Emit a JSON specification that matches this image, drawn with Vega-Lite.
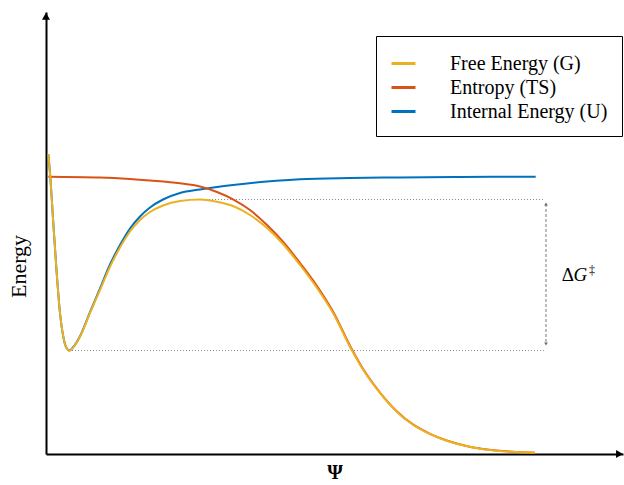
{
  "$schema": "https://vega.github.io/schema/vega-lite/v6.json",
  "width": 577,
  "height": 442,
  "autosize": {"type": "none"},
  "padding": {"left": 46, "top": 12, "right": 1, "bottom": 31},
  "background": "white",
  "config": {
    "view": {"stroke": null},
    "font": "Liberation Serif",
    "axis": {"domain": true, "domainColor": "black", "domainWidth": 2, "ticks": false, "labels": false, "grid": false, "titleFont": "Liberation Serif", "titleFontSize": 20, "titleColor": "black"},
    "axisX": {"titleFontWeight": "bold", "titlePadding": 8},
    "axisY": {"titleFontWeight": "normal", "titleFontSize": 22, "titleAngle": -90, "titleX": -28, "titleY": 254, "titleAlign": "center", "titleBaseline": "middle"}
  },
  "datasets": {
    "curves": [
      {"series": "Internal Energy (U)", "x": 2.3, "y": 300},
      {"series": "Internal Energy (U)", "x": 4, "y": 281},
      {"series": "Internal Energy (U)", "x": 7.3, "y": 231},
      {"series": "Internal Energy (U)", "x": 10.7, "y": 181},
      {"series": "Internal Energy (U)", "x": 14, "y": 141},
      {"series": "Internal Energy (U)", "x": 17.3, "y": 117.3},
      {"series": "Internal Energy (U)", "x": 20.7, "y": 105.7},
      {"series": "Internal Energy (U)", "x": 23.3, "y": 103.5},
      {"series": "Internal Energy (U)", "x": 27.3, "y": 107},
      {"series": "Internal Energy (U)", "x": 34, "y": 117.8},
      {"series": "Internal Energy (U)", "x": 44, "y": 141.8},
      {"series": "Internal Energy (U)", "x": 54, "y": 165.5},
      {"series": "Internal Energy (U)", "x": 64, "y": 189.5},
      {"series": "Internal Energy (U)", "x": 74, "y": 209},
      {"series": "Internal Energy (U)", "x": 84, "y": 225.5},
      {"series": "Internal Energy (U)", "x": 94, "y": 237.5},
      {"series": "Internal Energy (U)", "x": 104, "y": 246.5},
      {"series": "Internal Energy (U)", "x": 117, "y": 254.5},
      {"series": "Internal Energy (U)", "x": 134, "y": 261},
      {"series": "Internal Energy (U)", "x": 154, "y": 264.5},
      {"series": "Internal Energy (U)", "x": 171, "y": 267},
      {"series": "Internal Energy (U)", "x": 187, "y": 269},
      {"series": "Internal Energy (U)", "x": 221, "y": 272.5},
      {"series": "Internal Energy (U)", "x": 254, "y": 274.8},
      {"series": "Internal Energy (U)", "x": 304, "y": 276},
      {"series": "Internal Energy (U)", "x": 354, "y": 276.6},
      {"series": "Internal Energy (U)", "x": 414, "y": 277},
      {"series": "Internal Energy (U)", "x": 489.7, "y": 277.3},
      {"series": "Entropy (TS)", "x": 2.3, "y": 277.3},
      {"series": "Entropy (TS)", "x": 54, "y": 276.5},
      {"series": "Entropy (TS)", "x": 84, "y": 275},
      {"series": "Entropy (TS)", "x": 104, "y": 273.5},
      {"series": "Entropy (TS)", "x": 134, "y": 270.7},
      {"series": "Entropy (TS)", "x": 154, "y": 267.5},
      {"series": "Entropy (TS)", "x": 171, "y": 262},
      {"series": "Entropy (TS)", "x": 187, "y": 254.7},
      {"series": "Entropy (TS)", "x": 204, "y": 244},
      {"series": "Entropy (TS)", "x": 221, "y": 229},
      {"series": "Entropy (TS)", "x": 237, "y": 212.3},
      {"series": "Entropy (TS)", "x": 254, "y": 191},
      {"series": "Entropy (TS)", "x": 271, "y": 168},
      {"series": "Entropy (TS)", "x": 287, "y": 142.5},
      {"series": "Entropy (TS)", "x": 305.7, "y": 105},
      {"series": "Entropy (TS)", "x": 317.3, "y": 84.7},
      {"series": "Entropy (TS)", "x": 334, "y": 61.5},
      {"series": "Entropy (TS)", "x": 350.7, "y": 42.8},
      {"series": "Entropy (TS)", "x": 367.3, "y": 29.3},
      {"series": "Entropy (TS)", "x": 384, "y": 20.2},
      {"series": "Entropy (TS)", "x": 400.7, "y": 13.5},
      {"series": "Entropy (TS)", "x": 417.3, "y": 8.8},
      {"series": "Entropy (TS)", "x": 434, "y": 5.4},
      {"series": "Entropy (TS)", "x": 450.7, "y": 3.4},
      {"series": "Entropy (TS)", "x": 470.7, "y": 2},
      {"series": "Entropy (TS)", "x": 489, "y": 1.3},
      {"series": "Free Energy (G)", "x": 2.3, "y": 300},
      {"series": "Free Energy (G)", "x": 4, "y": 281},
      {"series": "Free Energy (G)", "x": 7.3, "y": 231},
      {"series": "Free Energy (G)", "x": 10.7, "y": 181},
      {"series": "Free Energy (G)", "x": 14, "y": 141},
      {"series": "Free Energy (G)", "x": 17.3, "y": 117.3},
      {"series": "Free Energy (G)", "x": 20.7, "y": 105.7},
      {"series": "Free Energy (G)", "x": 23.3, "y": 103.3},
      {"series": "Free Energy (G)", "x": 27.3, "y": 106.7},
      {"series": "Free Energy (G)", "x": 34, "y": 117.3},
      {"series": "Free Energy (G)", "x": 44, "y": 141},
      {"series": "Free Energy (G)", "x": 54, "y": 164},
      {"series": "Free Energy (G)", "x": 64, "y": 187.3},
      {"series": "Free Energy (G)", "x": 74, "y": 206.5},
      {"series": "Free Energy (G)", "x": 84, "y": 222.5},
      {"series": "Free Energy (G)", "x": 94, "y": 234},
      {"series": "Free Energy (G)", "x": 104, "y": 242},
      {"series": "Free Energy (G)", "x": 117, "y": 248.5},
      {"series": "Free Energy (G)", "x": 134, "y": 253},
      {"series": "Free Energy (G)", "x": 154, "y": 254.5},
      {"series": "Free Energy (G)", "x": 170.7, "y": 252.3},
      {"series": "Free Energy (G)", "x": 187, "y": 248},
      {"series": "Free Energy (G)", "x": 204, "y": 239},
      {"series": "Free Energy (G)", "x": 221, "y": 226},
      {"series": "Free Energy (G)", "x": 237, "y": 210},
      {"series": "Free Energy (G)", "x": 254, "y": 189},
      {"series": "Free Energy (G)", "x": 271, "y": 166},
      {"series": "Free Energy (G)", "x": 287, "y": 141},
      {"series": "Free Energy (G)", "x": 305.7, "y": 104},
      {"series": "Free Energy (G)", "x": 317.3, "y": 84},
      {"series": "Free Energy (G)", "x": 334, "y": 61},
      {"series": "Free Energy (G)", "x": 350.7, "y": 42.3},
      {"series": "Free Energy (G)", "x": 367.3, "y": 29},
      {"series": "Free Energy (G)", "x": 384, "y": 20},
      {"series": "Free Energy (G)", "x": 400.7, "y": 13.3},
      {"series": "Free Energy (G)", "x": 417.3, "y": 8.7},
      {"series": "Free Energy (G)", "x": 434, "y": 5.3},
      {"series": "Free Energy (G)", "x": 450.7, "y": 3.3},
      {"series": "Free Energy (G)", "x": 470.7, "y": 2},
      {"series": "Free Energy (G)", "x": 489, "y": 1.3}
    ],
    "levels": [
      {"level": "max", "x": 160, "x2": 499, "y": 254.5},
      {"level": "min", "x": 23, "x2": 499, "y": 103.5}
    ],
    "barrier": [{"x": 500, "y": 250, "y2": 110}],
    "barrierHeads": [
      {"dir": "up", "x": 500, "y": 250},
      {"dir": "down", "x": 500, "y": 110}
    ],
    "axisHeads": [
      {"dir": "up", "x": 0, "y": 437.8},
      {"dir": "right", "x": 573.5, "y": 0}
    ],
    "label": [{"x": 515.7, "y": 173}]
  },
  "layer": [
    {
      "data": {"name": "levels"},
      "mark": {"type": "rule", "color": "#8c8c8c", "strokeWidth": 1, "strokeDash": [1, 2]},
      "encoding": {
        "x": {"field": "x", "type": "quantitative", "title": "Ψ"},
        "x2": {"field": "x2"},
        "y": {"field": "y", "type": "quantitative", "title": "Energy"}
      }
    },
    {
      "data": {"name": "barrier"},
      "mark": {"type": "rule", "color": "#7a7a7a", "strokeWidth": 1, "strokeDash": [3, 2]},
      "encoding": {
        "x": {"field": "x", "type": "quantitative", "title": "Ψ"},
        "y": {"field": "y", "type": "quantitative", "title": "Energy"},
        "y2": {"field": "y2"}
      }
    },
    {
      "data": {"name": "barrierHeads"},
      "mark": {"type": "point", "filled": true, "color": "#6a6a6a", "opacity": 1, "size": 14, "strokeWidth": 0},
      "encoding": {
        "x": {"field": "x", "type": "quantitative", "title": "Ψ"},
        "y": {"field": "y", "type": "quantitative", "title": "Energy"},
        "shape": {"field": "dir", "type": "nominal", "scale": {"domain": ["up", "down", "right"], "range": ["triangle-up", "triangle-down", "triangle-right"]}, "legend": null}
      }
    },
    {
      "data": {"name": "curves"},
      "mark": {"type": "line", "strokeWidth": 2, "interpolate": "monotone"},
      "encoding": {
        "x": {
          "field": "x", "type": "quantitative", "title": "Ψ",
          "scale": {"domain": [0, 577], "nice": false, "zero": false}
        },
        "y": {
          "field": "y", "type": "quantitative", "title": "Energy",
          "scale": {"domain": [0, 442], "nice": false, "zero": false}
        },
        "color": {
          "field": "series", "type": "nominal",
          "scale": {"domain": ["Free Energy (G)", "Entropy (TS)", "Internal Energy (U)"], "range": ["#EDB120", "#D95319", "#0072BD"]},
          "legend": {"title": null, "orient": "none", "legendX": 330, "legendY": 24, "symbolType": "stroke", "symbolSize": 576, "symbolStrokeWidth": 3, "labelFont": "Liberation Serif", "labelFontSize": 20, "labelColor": "black", "labelOffset": 33, "labelLimit": 400, "padding": 14, "rowPadding": 0, "strokeColor": "black", "fillColor": "white", "cornerRadius": 0}
        }
      }
    },
    {
      "data": {"name": "axisHeads"},
      "mark": {"type": "point", "filled": true, "color": "black", "opacity": 1, "size": 64, "strokeWidth": 0, "clip": false},
      "encoding": {
        "x": {"field": "x", "type": "quantitative", "title": "Ψ"},
        "y": {"field": "y", "type": "quantitative", "title": "Energy"},
        "shape": {"field": "dir", "type": "nominal", "scale": {"domain": ["up", "down", "right"], "range": ["triangle-up", "triangle-down", "triangle-right"]}, "legend": null}
      }
    },
    {
      "data": {"name": "label"},
      "mark": {"type": "text", "text": "Δ", "align": "left", "baseline": "alphabetic", "font": "Liberation Serif", "fontSize": 19, "color": "black"},
      "encoding": {
        "x": {"field": "x", "type": "quantitative", "title": "Ψ"},
        "y": {"field": "y", "type": "quantitative", "title": "Energy"}
      }
    },
    {
      "data": {"name": "label"},
      "mark": {"type": "text", "text": "G", "align": "left", "baseline": "alphabetic", "font": "Liberation Serif", "fontSize": 19, "fontStyle": "italic", "color": "black", "dx": 11.8},
      "encoding": {
        "x": {"field": "x", "type": "quantitative", "title": "Ψ"},
        "y": {"field": "y", "type": "quantitative", "title": "Energy"}
      }
    },
    {
      "data": {"name": "label"},
      "mark": {"type": "text", "text": "‡", "align": "left", "baseline": "alphabetic", "font": "Liberation Serif", "fontSize": 12, "color": "black", "dx": 27.3, "dy": -7},
      "encoding": {
        "x": {"field": "x", "type": "quantitative", "title": "Ψ"},
        "y": {"field": "y", "type": "quantitative", "title": "Energy"}
      }
    }
  ]
}
